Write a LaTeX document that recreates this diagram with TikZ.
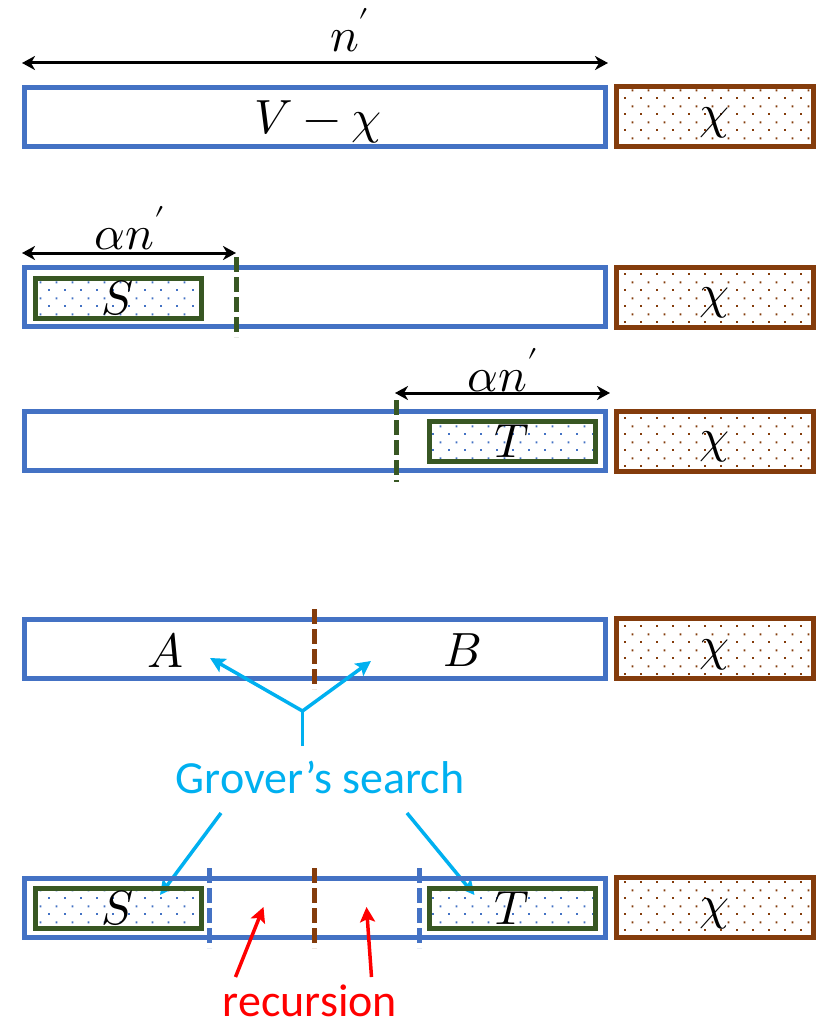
\documentclass[tikz,border=0pt]{standalone}
\usepackage{fontspec}
\usepackage{unicode-math}
\setmainfont{Carlito}
\setmathfont{Latin Modern Math}
\usetikzlibrary{arrows.meta,patterns.meta}
\definecolor{myblue}{RGB}{68,114,196}
\definecolor{mybrown}{RGB}{132,60,12}
\definecolor{mygreen}{RGB}{56,87,35}
\definecolor{mycyan}{RGB}{0,176,240}
\definecolor{myred}{RGB}{255,0,0}
\tikzdeclarepattern{
  name=stagdots,
  type=uncolored,
  bottom left={(0pt,0pt)},
  top right={(16pt,16pt)},
  tile size={(16pt,16pt)},
  code={
    \pgfpathrectangle{\pgfpoint{0pt}{0pt}}{\pgfpoint{2pt}{2pt}}
    \pgfpathrectangle{\pgfpoint{8pt}{8pt}}{\pgfpoint{2pt}{2pt}}
    \pgfusepath{fill}
  }
}
\tikzset{
  bluebox/.style={draw=myblue, line width=5pt, minimum width=580.5pt, minimum height=59pt, inner sep=0pt},
  chibox/.style={draw=mybrown, line width=5pt, minimum width=196.5pt, minimum height=60pt, inner sep=0pt,
     pattern=stagdots, pattern color=mybrown},
  setbox/.style={draw=mygreen, line width=5pt, minimum width=166pt, minimum height=40pt, inner sep=0pt,
     pattern=stagdots, pattern color=myblue},
  mathlbl/.style={font=\fontsize{48}{52}\selectfont, inner sep=0pt},
  dimarrow/.style={line width=3pt, {Stealth[length=13pt,width=14pt,inset=4pt]}-{Stealth[length=13pt,width=14pt,inset=4pt]}},
  greendash/.style={draw=mygreen, line width=5pt, dash pattern=on 15pt off 5pt},
  browndash/.style={draw=mybrown, line width=5pt, dash pattern=on 15pt off 5pt},
  bluedash/.style={draw=myblue, line width=5pt, dash pattern=on 15pt off 5pt},
  cyanarrow/.style={draw=mycyan, line width=3.5pt, -{Stealth[length=15pt,width=15pt,inset=3pt]}},
  redarrow/.style={draw=myred, line width=3.5pt, -{Stealth[length=15pt,width=15pt,inset=3pt]}},
  txt/.style={font=\fontsize{46}{50}\selectfont, inner sep=0pt, anchor=base},
  chilbl/.style={mathlbl, yshift=-6pt},
}
\begin{document}
\begin{tikzpicture}[x=1pt,y=-1pt]
\fill[white] (0,0) rectangle (828,1027);
\useasboundingbox (0,0) rectangle (828,1027);

% Row 1
\coordinate (n1a) at (22,63);
\coordinate (n1b) at (608,63);
\draw[dimarrow] (n1a) -- (n1b);
\node[mathlbl] (nlbl) at (350,30) {$n'$};
\node[bluebox] (b1) at (314.75,117.5) {};
\node[mathlbl] (vchi) at (318,122) {$V-\chi$};
\node[chibox] (c1) at (714.75,116.5) {};
\node[chilbl] (chi1) at (c1.center) {$\chi$};

% Row 2
\coordinate (a2a) at (22,253);
\coordinate (a2b) at (236,253);
\draw[dimarrow] (a2a) -- (a2b);
\node[mathlbl] (al2) at (130,228) {$\alpha n'$};
\node[bluebox] (b2) at (314.75,297) {};
\node[setbox] (s2) at (118,298) {};
\node[mathlbl] (s2l) at (s2.center) {$S$};
\coordinate (g2a) at (236,257);
\coordinate (g2b) at (236,337);
\draw[greendash] (g2a) -- (g2b);
\node[chibox] (c2) at (714.75,297) {};
\node[chilbl] (chi2) at (c2.center) {$\chi$};

% Row 3
\coordinate (a3a) at (395,393);
\coordinate (a3b) at (610,393);
\draw[dimarrow] (a3a) -- (a3b);
\node[mathlbl] (al3) at (503,370) {$\alpha n'$};
\node[bluebox] (b3) at (314.75,441) {};
\node[setbox] (t3) at (512,441.5) {};
\node[mathlbl] (t3l) at (t3.center) {$T$};
\coordinate (g3a) at (396,400);
\coordinate (g3b) at (396,482);
\draw[greendash] (g3a) -- (g3b);
\node[chibox] (c3) at (714.75,441) {};
\node[chilbl] (chi3) at (c3.center) {$\chi$};

% Row 4
\node[bluebox] (b4) at (314.75,648.5) {};
\coordinate (d4a) at (314.5,609);
\coordinate (d4b) at (314.5,689);
\draw[browndash] (d4a) -- (d4b);
\node[mathlbl] (A) at (165,650) {$A$};
\node[mathlbl] (B) at (462,650) {$B$};
\node[chibox] (c4) at (714.75,648.5) {};
\node[chilbl] (chi4) at (c4.center) {$\chi$};

% Grover arrows
\coordinate (gbot) at (302.5,746);
\coordinate (gj) at (302.5,711);
\coordinate (gA) at (210,658);
\coordinate (gB) at (371,661);
\draw[draw=mycyan, line width=3.5pt] (gbot) -- (gj);
\draw[cyanarrow] (gj) -- (gA);
\draw[cyanarrow] (gj) -- (gB);
\node[txt, text=mycyan] (grover) at (320,793) {Grover’s search};
\coordinate (gs1) at (221,813);
\coordinate (gs2) at (160,895);
\coordinate (gt1) at (407,813);
\coordinate (gt2) at (474.5,895);
\draw[cyanarrow] (gs1) -- (gs2);
\draw[cyanarrow] (gt1) -- (gt2);

% Row 5
\node[bluebox] (b5) at (314.75,907.5) {};
\node[setbox] (s5) at (118,908) {};
\node[mathlbl] (s5l) at (s5.center) {$S$};
\node[setbox] (t5) at (512,908) {};
\node[mathlbl] (t5l) at (t5.center) {$T$};
\coordinate (l5a) at (209.5,868);
\coordinate (l5b) at (209.5,948);
\coordinate (m5a) at (314.5,868);
\coordinate (m5b) at (314.5,948);
\coordinate (r5a) at (419.5,868);
\coordinate (r5b) at (419.5,948);
\draw[bluedash] (l5a) -- (l5b);
\draw[browndash] (m5a) -- (m5b);
\draw[bluedash] (r5a) -- (r5b);
\node[chibox] (c5) at (714.75,907.5) {};
\node[chilbl] (chi5) at (c5.center) {$\chi$};

% recursion arrows
\coordinate (ra1) at (235.5,977);
\coordinate (ra2) at (263.5,907);
\coordinate (rb1) at (371.5,977);
\coordinate (rb2) at (366.5,907);
\draw[redarrow] (ra1) -- (ra2);
\draw[redarrow] (rb1) -- (rb2);
\node[txt, text=myred] (rec) at (310,1016) {recursion};
\end{tikzpicture}
\end{document}
